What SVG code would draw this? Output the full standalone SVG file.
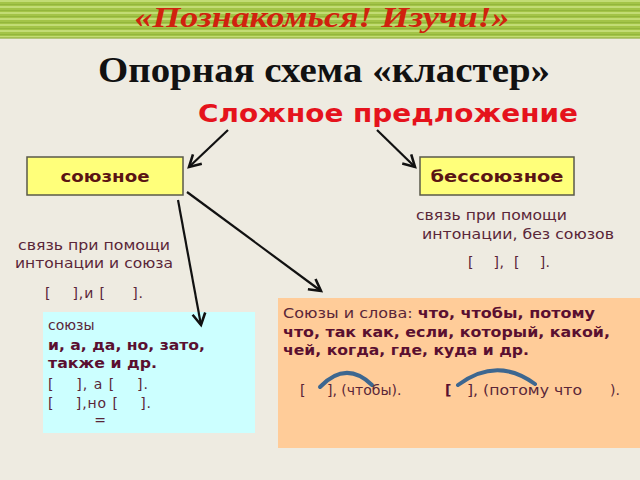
<svg xmlns="http://www.w3.org/2000/svg" width="640" height="480" viewBox="0 0 640 480">
<style>
.sans{font-family:"DejaVu Sans","Verdana","Noto Sans",sans-serif}
.body{font-size:14px;fill:#5a2638}
.bold{font-weight:bold;fill:#5a0f30}
.box{fill:#ffff7a;stroke:#5a5a4a;stroke-width:1.5}
.boxtxt{font-size:16px;font-weight:bold;fill:#5a1414;text-anchor:middle}
.arr{stroke:#111;stroke-width:2.2;fill:none;marker-end:url(#ah)}
.arc{stroke:#3d6790;stroke-width:4;fill:none;stroke-linecap:round}
.br{font-size:14px;fill:#5a2638}
</style>
<defs>
<pattern id="stripes" width="640" height="6" patternUnits="userSpaceOnUse">
<rect width="640" height="6" fill="#a3c447"/>
<rect y="0" width="640" height="2" fill="#c2dc74"/>
<rect y="4" width="640" height="1" fill="#93b63c"/>
</pattern>
<marker id="ah" viewBox="0 0 12 12" refX="10" refY="6" markerWidth="7" markerHeight="7" orient="auto" markerUnits="strokeWidth">
<path d="M1,1 L10,6 L1,11" fill="none" stroke="#111" stroke-width="2"/>
</marker>
</defs>
<rect width="640" height="480" fill="#eeebe1"/>
<rect width="640" height="38" fill="url(#stripes)"/>
<rect y="37" width="640" height="2" fill="#8fae3c" opacity="0.6"/>

<g id="header">
<text x="322" y="27" font-family="'Liberation Serif','Times New Roman',serif" font-style="italic" font-weight="bold" font-size="30" fill="#d0220e" text-anchor="middle" textLength="375" lengthAdjust="spacingAndGlyphs">«Познакомься! Изучи!»</text>
</g>
<g id="title">
<text x="324" y="82" font-family="'Liberation Serif','Times New Roman',serif" font-weight="bold" font-size="36" fill="#111" text-anchor="middle" textLength="452" lengthAdjust="spacingAndGlyphs">Опорная схема «кластер»</text>
</g>
<g id="root">
<text x="388" y="122" class="sans" font-weight="bold" font-size="24" fill="#e5131c" text-anchor="middle" textLength="380" lengthAdjust="spacingAndGlyphs">Сложное предложение</text>
</g>

<g id="soyuznoe">
<rect class="box" x="27" y="157" width="156" height="38"/>
<text class="sans boxtxt" x="105" y="182" textLength="89" lengthAdjust="spacingAndGlyphs">союзное</text>
</g>
<g id="bessoyuznoe">
<rect class="box" x="420" y="157" width="154" height="38"/>
<text class="sans boxtxt" x="497" y="182" textLength="133" lengthAdjust="spacingAndGlyphs">бессоюзное</text>
</g>

<g id="soyuznoe-desc">
<text class="sans body" x="18" y="250" font-size="15" textLength="152" lengthAdjust="spacingAndGlyphs">связь при помощи</text>
<text class="sans body" x="15" y="268" font-size="15" textLength="158" lengthAdjust="spacingAndGlyphs">интонации и союза</text>
<text class="sans br" x="45" y="298" xml:space="preserve" textLength="98" lengthAdjust="spacing">[    ],и [     ].</text>
</g>

<g id="bessoyuznoe-desc">
<text class="sans body" x="416" y="220" font-size="15" textLength="151" lengthAdjust="spacingAndGlyphs">связь при помощи</text>
<text class="sans body" x="422" y="239" font-size="15" textLength="192" lengthAdjust="spacingAndGlyphs">интонации, без союзов</text>
<text class="sans br" x="468" y="267" xml:space="preserve" textLength="82" lengthAdjust="spacing">[    ],  [    ].</text>
</g>

<g id="soyuzy-box">
<rect x="43" y="312" width="212" height="121" fill="#ccffff"/>
<text class="sans body" x="48" y="330">союзы</text>
<text class="sans body bold" x="48" y="350" textLength="157" lengthAdjust="spacingAndGlyphs">и, а, да, но, зато,</text>
<text class="sans body bold" x="48" y="368" textLength="109" lengthAdjust="spacingAndGlyphs">также и др.</text>
<text class="sans body" x="48" y="389" xml:space="preserve" textLength="100" lengthAdjust="spacing">[    ], а [    ].</text>
<text class="sans body" x="48" y="408" xml:space="preserve" textLength="103" lengthAdjust="spacing">[    ],но [    ].</text>
<text class="sans body" x="100" y="425" text-anchor="middle">=</text>
</g>

<g id="slova-box">
<rect x="278" y="298" width="362" height="150" fill="#ffcc99"/>
<text class="sans body" x="283" y="318" textLength="312" lengthAdjust="spacingAndGlyphs">Союзы и слова: <tspan class="bold">что, чтобы, потому</tspan></text>
<text class="sans body bold" x="283" y="337" textLength="327" lengthAdjust="spacingAndGlyphs">что, так как, если, который, какой,</text>
<text class="sans body bold" x="283" y="355" textLength="246" lengthAdjust="spacingAndGlyphs">чей, когда, где, куда и др.</text>
<path class="arc" d="M320,387 Q346,360 372,385"/>
<path class="arc" d="M458,385 Q497,356 535,384"/>
<text class="sans body" x="300" y="395">[</text>
<text class="sans body" x="327" y="395">], (чтобы).</text>
<text class="sans body bold" x="445" y="395" fill="#3a0a1a">[</text>
<text class="sans body" x="467" y="395" textLength="115" lengthAdjust="spacingAndGlyphs">], (потому что</text>
<text class="sans body" x="610" y="395">).</text>
</g>

<g id="connectors">
<line class="arr" x1="228" y1="130" x2="189" y2="167"/>
<line class="arr" x1="377" y1="130" x2="415" y2="167"/>
<line class="arr" x1="178" y1="200" x2="201" y2="325"/>
<line class="arr" x1="187" y1="192" x2="321" y2="291"/>
</g>
</svg>
